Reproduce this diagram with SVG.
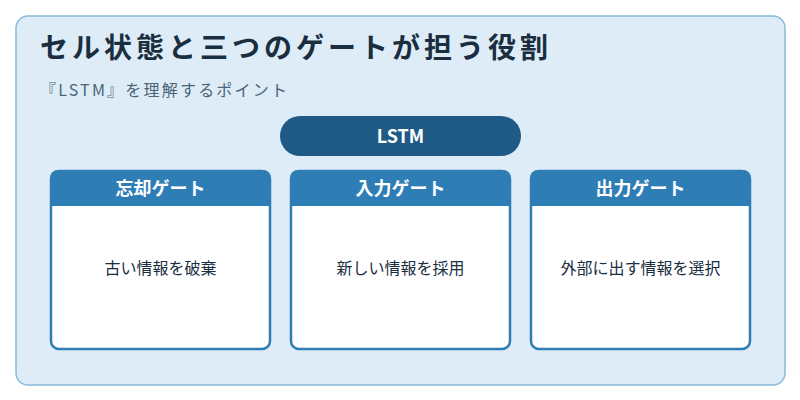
<svg xmlns="http://www.w3.org/2000/svg" width="800" height="400" viewBox="0 0 800 400">
<style>
text{font-family:"Noto Sans CJK JP","Noto Sans",sans-serif}
.h{fill:#fff;font-size:18px;font-weight:bold;text-anchor:middle}
.b{fill:#1a2e40;font-size:16px;text-anchor:middle}
.card{fill:#fff;stroke:#2e7db5;stroke-width:2.5}
.hd{fill:#2e7db5}
</style>
<rect x="16" y="16" width="769" height="369" rx="12" fill="#ddecf6" stroke="#8ab9da" stroke-width="1.5"/>
<text x="40" y="58" font-size="28" font-weight="bold" fill="#1a2e40" textLength="508" lengthAdjust="spacing">セル状態と三つのゲートが担う役割</text>
<text x="40" y="96" font-size="16" fill="#4a6478" textLength="247" lengthAdjust="spacing">『LSTM』を理解するポイント</text>
<g id="lstm"><rect x="280" y="116" width="241" height="40" rx="20" fill="#1f5a87"/><text class="h" x="400.5" y="143">LSTM</text></g>
<g id="forget"><rect class="card" x="51" y="171" width="219" height="178" rx="8"/><path class="hd" d="M50 206V178a8 8 0 0 1 8-8h205a8 8 0 0 1 8 8v28z"/><text class="h" x="160.5" y="195">忘却ゲート</text><text class="b" x="160.5" y="274">古い情報を破棄</text></g>
<g id="input"><rect class="card" x="291" y="171" width="219" height="178" rx="8"/><path class="hd" d="M290 206V178a8 8 0 0 1 8-8h205a8 8 0 0 1 8 8v28z"/><text class="h" x="400.5" y="195">入力ゲート</text><text class="b" x="400.5" y="274">新しい情報を採用</text></g>
<g id="output"><rect class="card" x="531" y="171" width="219" height="178" rx="8"/><path class="hd" d="M530 206V178a8 8 0 0 1 8-8h205a8 8 0 0 1 8 8v28z"/><text class="h" x="640.5" y="195">出力ゲート</text><text class="b" x="640.5" y="274">外部に出す情報を選択</text></g>
<g id="connectors"></g>
</svg>
